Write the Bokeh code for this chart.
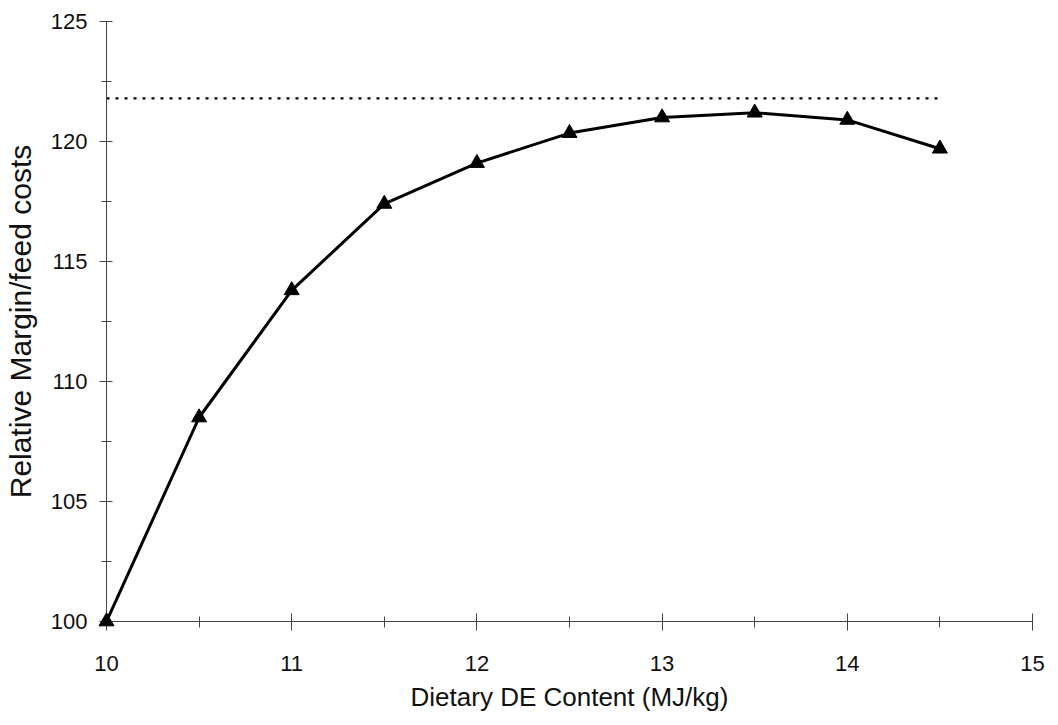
from bokeh.plotting import figure
from bokeh.models import Range1d, FixedTicker
from bokeh.embed import file_html
from bokeh.resources import INLINE

# Dietary digestible energy content (MJ/kg) and relative margin over feed costs
de_content = [10, 10.5, 11, 11.5, 12, 12.5, 13, 13.5, 14, 14.5]
relative_margin = [100, 108.5, 113.8, 117.4, 119.1, 120.35, 121.0, 121.2, 120.9, 119.7]

# Dotted reference level
ref_x = [10, 14.5]
ref_y = [121.8, 121.8]

x_ticks = [10, 11, 12, 13, 14, 15]
y_ticks = [100, 105, 110, 115, 120, 125]
x_minor = [10.5, 11.5, 12.5, 13.5, 14.5]
y_minor = [102.5, 107.5, 112.5, 117.5, 122.5]

FONT = "Liberation Sans"
AXIS_COLOR = "#444444"
TEXT_COLOR = "#111111"

p = figure(
    width=1058, height=725,
    x_range=Range1d(10, 15), y_range=Range1d(100, 125),
    output_backend="svg", toolbar_location=None,
    min_border_left=106, min_border_right=26,
    min_border_top=21, min_border_bottom=104,
)
p.outline_line_color = None
p.xgrid.visible = False
p.ygrid.visible = False
p.background_fill_color = "white"
p.border_fill_color = "white"

xa = p.xaxis[0]
ya = p.yaxis[0]
xa.ticker = FixedTicker(ticks=x_ticks, minor_ticks=x_minor)
ya.ticker = FixedTicker(ticks=y_ticks, minor_ticks=y_minor)

for ax in (xa, ya):
    ax.axis_line_color = AXIS_COLOR
    ax.axis_line_width = 1
    ax.major_tick_line_color = AXIS_COLOR
    ax.minor_tick_line_color = AXIS_COLOR
    ax.major_label_text_font = FONT
    ax.major_label_text_font_size = "22px"
    ax.major_label_text_color = TEXT_COLOR
    ax.axis_label_text_font = FONT
    ax.axis_label_text_font_style = "normal"
    ax.axis_label_text_color = TEXT_COLOR

xa.axis_label = "Dietary DE Content (MJ/kg)"
xa.axis_label_text_font_size = "26px"
xa.major_tick_in = 8
xa.major_tick_out = 9
xa.minor_tick_in = 5
xa.minor_tick_out = 6
xa.major_label_standoff = 25
xa.axis_label_standoff = 8

ya.axis_label = "Relative Margin/feed costs"
ya.axis_label_text_font_size = "30px"
ya.major_tick_in = 6
ya.major_tick_out = 7
ya.minor_tick_in = 5
ya.minor_tick_out = 5
ya.major_label_standoff = 12
ya.axis_label_standoff = 11

# reference level
p.line(ref_x, ref_y, line_color="black", line_width=2.2, line_dash="3 6")

# margin curve with triangle markers (overlay level so the marker at the
# origin is drawn in full over the axes)
p.line(de_content, relative_margin, line_color="black", line_width=3)
p.scatter(de_content, relative_margin, marker="triangle", size=15,
          fill_color="black", line_color="black", level="overlay")

open("out.html", "w").write(file_html(p, INLINE))
